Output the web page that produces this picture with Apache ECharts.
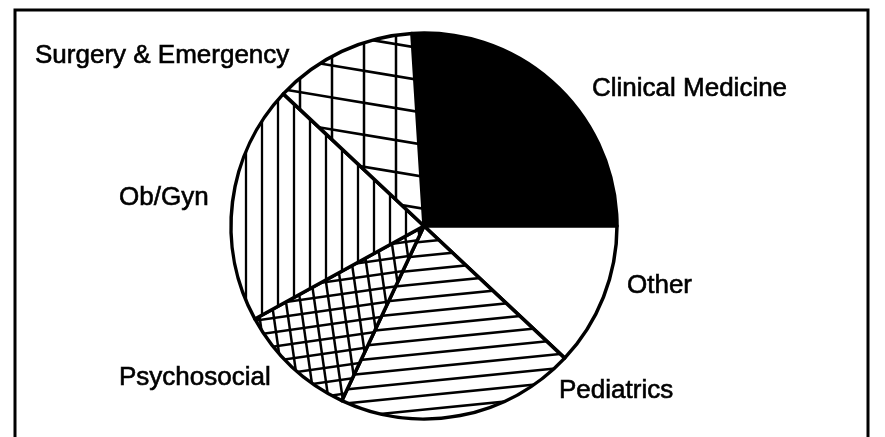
<!DOCTYPE html>
<html>
<head>
<meta charset="utf-8">
<script src="https://cdn.jsdelivr.net/npm/echarts@6/dist/echarts.min.js"></script>
<style>html,body{margin:0;padding:0;background:#fff;}#c{width:885px;height:437px;}</style>
</head>
<body>
<div id="c"></div>
<script>
// ---- data ----
const categories = ['Clinical Medicine', 'Other', 'Pediatrics', 'Psychosocial', 'Ob/Gyn', 'Surgery & Emergency'];
const shares = [26, 12, 20, 10, 20, 12];

// ---- label layout (screen positions of the text labels) ----
const labelPos = [[592, 89], [627, 286], [559, 391], [119, 378], [119, 198], [35, 56]];

// ---- hatch pattern helper ----
function makeHatch(W, H, families) {
  const cv = document.createElement('canvas');
  cv.width = W; cv.height = H;
  const ctx = cv.getContext('2d');
  ctx.fillStyle = '#fff';
  ctx.fillRect(0, 0, W, H);
  ctx.strokeStyle = '#000';
  families.forEach(f => {
    const len = Math.hypot(f.nx, f.ny);
    const nx = f.nx / len, ny = f.ny / len;
    const tx = -ny, ty = nx;
    ctx.lineWidth = f.w;
    const big = (W + H) * 2;
    for (let k = -60; k <= 60; k++) {
      const c = k * f.d + (f.off || 0);
      const px = nx * c, py = ny * c;
      ctx.beginPath();
      ctx.moveTo(px - tx * big, py - ty * big);
      ctx.lineTo(px + tx * big, py + ty * big);
      ctx.stroke();
    }
  });
  return { image: cv, repeat: 'repeat' };
}

const patPediatrics = makeHatch(140, 14, [{ nx: 1, ny: 10, d: 140 / Math.sqrt(101), w: 2.6, off: 4 }]);
const patPsycho = makeHatch(100, 100, [
  { nx: 1, ny: 7, d: 100 / Math.sqrt(50), w: 2.5 },
  { nx: 7, ny: -1, d: 100 / Math.sqrt(50), w: 2.5 }
]);
const patObGyn = makeHatch(16, 16, [{ nx: 1, ny: 0, d: 16, w: 2.3, off: 6 }]);
const patSurgery = makeHatch(192, 32, [
  { nx: 1, ny: 0, d: 32, w: 2.5, off: 12 },
  { nx: -1, ny: 6, d: 192 / Math.sqrt(37), w: 2.5, off: 10 }
]);

const fills = ['#000000', '#ffffff', patPediatrics, patPsycho, patObGyn, patSurgery];

const chart = echarts.init(document.getElementById('c'), null, { renderer: 'canvas' });
chart.setOption({
  animation: false,
  backgroundColor: '#fff',
  graphic: [{
    type: 'rect',
    shape: { x: 15, y: 10, width: 853, height: 460 },
    style: { fill: 'none', stroke: '#000', lineWidth: 3 },
    silent: true
  }],
  series: [{
    type: 'pie',
    center: [424, 226],
    radius: 193,
    startAngle: 93.6,
    clockwise: true,
    avoidLabelOverlap: false,
    itemStyle: { borderColor: '#000', borderWidth: 3.5 },
    label: {
      show: true,
      position: 'outside',
      color: '#000',
      fontFamily: 'Liberation Sans',
      fontSize: 26,
      textBorderColor: '#000',
      textBorderWidth: 0.6,
      formatter: '{b}'
    },
    labelLine: { show: false },
    labelLayout: function (params) {
      const p = labelPos[params.dataIndex];
      return { x: p[0], y: p[1], align: 'left', verticalAlign: 'middle' };
    },
    emphasis: { disabled: true },
    data: categories.map((name, i) => ({
      name: name,
      value: shares[i],
      itemStyle: { color: fills[i] }
    }))
  }]
});
</script>
</body>
</html>
